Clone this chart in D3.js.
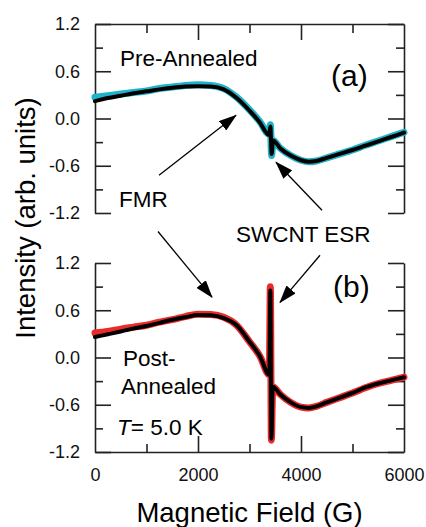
<!DOCTYPE html>
<html>
<head>
<meta charset="utf-8">
<script src="https://cdn.jsdelivr.net/npm/d3@7"></script>
<style>
  html, body { margin: 0; padding: 0; background: #fff; }
  svg { display: block; font-family: "Liberation Sans", Arial, Helvetica, sans-serif; }
</style>
</head>
<body>
<svg id="chart" width="426" height="527"></svg>
<script>
// ---------- DATA ----------
// Panel (a): Pre-Annealed
const fieldA = [0, 250, 500, 750, 1000, 1250, 1500, 1750, 2000, 2250, 2500, 2750, 3000, 3200, 3380, 3405, 3430, 3455, 3600, 3800, 4000, 4150, 4300, 4500, 4750, 5000, 5250, 5500, 5750, 6000];
const dataA  = [0.27, 0.29, 0.31, 0.33, 0.35, 0.38, 0.40, 0.42, 0.43, 0.42, 0.38, 0.27, 0.11, -0.04, -0.20, -0.08, -0.47, -0.28, -0.38, -0.47, -0.53, -0.55, -0.54, -0.50, -0.45, -0.40, -0.34, -0.285, -0.23, -0.175];
const fitA   = [0.22, 0.26, 0.29, 0.32, 0.345, 0.37, 0.39, 0.405, 0.41, 0.405, 0.37, 0.26, 0.10, -0.05, -0.21, -0.10, -0.45, -0.28, -0.38, -0.47, -0.53, -0.55, -0.54, -0.50, -0.45, -0.40, -0.345, -0.29, -0.235, -0.18];

// Panel (b): Post-Annealed
const fieldB = [0, 250, 500, 750, 1000, 1250, 1500, 1750, 2000, 2250, 2500, 2750, 3000, 3200, 3385, 3405, 3425, 3450, 3600, 3800, 4000, 4150, 4300, 4500, 4750, 5000, 5250, 5500, 5750, 6000];
const dataB  = [0.31, 0.33, 0.36, 0.385, 0.41, 0.45, 0.48, 0.52, 0.55, 0.545, 0.51, 0.41, 0.20, 0.02, -0.22, 0.90, -1.05, -0.37, -0.47, -0.57, -0.63, -0.64, -0.62, -0.57, -0.51, -0.45, -0.385, -0.33, -0.29, -0.25];
const fitB   = [0.26, 0.295, 0.33, 0.37, 0.40, 0.44, 0.48, 0.51, 0.54, 0.535, 0.50, 0.41, 0.20, 0.02, -0.22, 0.85, -1.03, -0.37, -0.47, -0.57, -0.63, -0.64, -0.62, -0.57, -0.51, -0.45, -0.38, -0.33, -0.29, -0.25];

// Axis ticks
const xMajorTicks = [0, 2000, 4000, 6000];
const xMinorTicks = [1000, 3000, 5000];
const xTickLabels = ["0", "2000", "4000", "6000"];
const yMajorTicks = [-1.2, -0.6, 0.0, 0.6, 1.2];
const yMinorTicks = [-0.9, -0.3, 0.3, 0.9];
const yTickLabels = ["-1.2", "-0.6", "0.0", "0.6", "1.2"];

// ---------- LAYOUT ----------
const svg = d3.select("#chart");
const left = 95, right = 404;
const aTop = 24, aBot = 213;
const bTop = 263, bBot = 452;

const x = d3.scaleLinear().domain([0, 6000]).range([left, right]);
const yA = d3.scaleLinear().domain([-1.2, 1.2]).range([aBot, aTop]);
const yB = d3.scaleLinear().domain([-1.2, 1.2]).range([bBot, bTop]);

const axisColor = "#222";
const majorLen = 16, minorLen = 8;

function styleAxis(g) {
  g.selectAll("path.domain").attr("stroke", axisColor).attr("stroke-width", 1.6);
  g.selectAll(".tick line").attr("stroke", axisColor).attr("stroke-width", 1.6);
  g.selectAll(".tick text").attr("fill", "#111").attr("font-size", 18)
    .attr("font-family", '"Liberation Sans", Arial, sans-serif');
}

function yAxes(y) {
  // left major with labels
  svg.append("g").attr("transform", `translate(${left},0)`)
    .call(d3.axisLeft(y).tickValues(yMajorTicks).tickSizeInner(-majorLen).tickSizeOuter(0)
      .tickPadding(15).tickFormat((d, i) => yTickLabels[i]))
    .call(styleAxis);
  svg.append("g").attr("transform", `translate(${left},0)`)
    .call(d3.axisLeft(y).tickValues(yMinorTicks).tickSizeInner(-minorLen).tickSizeOuter(0).tickFormat(""))
    .call(styleAxis).call(g => g.select(".domain").remove());
  // right
  svg.append("g").attr("transform", `translate(${right},0)`)
    .call(d3.axisRight(y).tickValues(yMajorTicks).tickSizeInner(-majorLen).tickSizeOuter(0).tickFormat(""))
    .call(styleAxis);
  svg.append("g").attr("transform", `translate(${right},0)`)
    .call(d3.axisRight(y).tickValues(yMinorTicks).tickSizeInner(-minorLen).tickSizeOuter(0).tickFormat(""))
    .call(styleAxis).call(g => g.select(".domain").remove());
}

yAxes(yA);
yAxes(yB);

// top axis of panel (a)
svg.append("g").attr("transform", `translate(0,${aTop})`)
  .call(d3.axisTop(x).tickValues(xMajorTicks.filter(d => d > 0 && d < 6000)).tickSizeInner(-majorLen).tickSizeOuter(0).tickFormat(""))
  .call(styleAxis);
svg.append("g").attr("transform", `translate(0,${aTop})`)
  .call(d3.axisTop(x).tickValues(xMinorTicks).tickSizeInner(-9).tickSizeOuter(0).tickFormat(""))
  .call(styleAxis).call(g => g.select(".domain").remove());

// bottom axis of panel (b)
const bAx = svg.append("g").attr("transform", `translate(0,${bBot})`)
  .call(d3.axisBottom(x).tickValues(xMajorTicks).tickSizeInner(-majorLen).tickSizeOuter(0)
    .tickPadding(16).tickFormat((d, i) => xTickLabels[i]))
  .call(styleAxis);
bAx.selectAll(".tick").filter(d => d === 0 || d === 6000).select("line").remove();
svg.append("g").attr("transform", `translate(0,${bBot})`)
  .call(d3.axisBottom(x).tickValues(xMinorTicks).tickSizeInner(-minorLen).tickSizeOuter(0).tickFormat(""))
  .call(styleAxis).call(g => g.select(".domain").remove());

// ---------- CURVES ----------
function drawCurve(fields, vals, y, color, width) {
  const line = d3.line().x((d, i) => x(fields[i])).y(d => y(d)).curve(d3.curveMonotoneX);
  svg.append("path").datum(vals).attr("d", line)
    .attr("fill", "none").attr("stroke", color).attr("stroke-width", width)
    .attr("stroke-linejoin", "round").attr("stroke-linecap", "round");
}
drawCurve(fieldA, dataA, yA, "#1fb3c9", 7);
drawCurve(fieldA, fitA, yA, "#000", 4);
drawCurve(fieldB, dataB, yB, "#ec2a2a", 7);
drawCurve(fieldB, fitB, yB, "#000", 4);

// ---------- ANNOTATIONS ----------
svg.append("defs").append("marker")
  .attr("id", "head").attr("viewBox", "0 0 18 12").attr("markerUnits", "userSpaceOnUse")
  .attr("markerWidth", 18).attr("markerHeight", 12).attr("refX", 17).attr("refY", 6)
  .attr("orient", "auto")
  .append("path").attr("d", "M0,0 L18,6 L0,12 Z").attr("fill", "#000");

const arrowsA = [
  { from: [1243, -0.72], to: [2738, 0.04] },     // FMR -> (a)
  { from: [4408, -1.166], to: [3515, -0.555] }  // SWCNT ESR -> (a)
];
const arrowsB = [
  { from: [1223, 1.60], to: [2272, 0.766] },     // FMR -> (b)
  { from: [4369, 1.298], to: [3592, 0.70] }     // SWCNT ESR -> (b)
];
function drawArrows(list, y) {
  list.forEach(a => {
    svg.append("line")
      .attr("x1", x(a.from[0])).attr("y1", y(a.from[1]))
      .attr("x2", x(a.to[0])).attr("y2", y(a.to[1]))
      .attr("stroke", "#000").attr("stroke-width", 1.3)
      .attr("marker-end", "url(#head)");
  });
}
drawArrows(arrowsA, yA);
drawArrows(arrowsB, yB);

function label(txt, fx, fv, y, size, anchor) {
  return svg.append("text").attr("x", x(fx)).attr("y", y(fv))
    .attr("font-size", size).attr("fill", "#000")
    .attr("text-anchor", anchor || "start").text(txt);
}
label("Pre-Annealed", 485, 0.666, yA, 22.5);
label("(a)", 4583, 0.41, yA, 30);
label("FMR", 466, -1.128, yA, 22.5);
label("SWCNT ESR", 2738, 1.463, yB, 22.5);
label("(b)", 4621, 0.764, yB, 30);
label("Post-", 544, -0.112, yB, 22.5);
label("Annealed", 505, -0.467, yB, 22.5);
const tl = svg.append("text").attr("x", x(427)).attr("y", yB(-0.988)).attr("font-size", 22.5).attr("fill", "#000");
tl.append("tspan").attr("font-style", "italic").text("T");
tl.append("tspan").text("= 5.0 K");

// axis titles
svg.append("text").attr("x", 249.5).attr("y", 522).attr("text-anchor", "middle")
  .attr("font-size", 27.5).attr("fill", "#000").text("Magnetic Field (G)");
svg.append("text").attr("transform", "translate(35,218) rotate(-90)").attr("text-anchor", "middle")
  .attr("font-size", 27.5).attr("fill", "#000").text("Intensity (arb. units)");
</script>
</body>
</html>
